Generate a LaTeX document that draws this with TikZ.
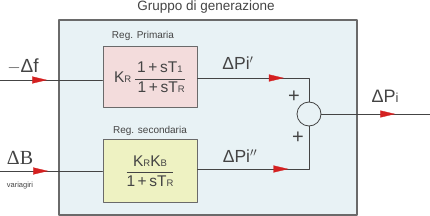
\documentclass[tikz,border=0pt]{standalone}
\usepackage{fontspec}
\setmainfont{Liberation Sans}
\newfontfamily\serifnum{Liberation Serif}
\usetikzlibrary{arrows.meta,calc,positioning,decorations.markings}
\definecolor{grpFill}{HTML}{E8F2F5}
\definecolor{grpLine}{HTML}{6A6A6A}
\definecolor{grpInk}{HTML}{444444}
\definecolor{regPink}{HTML}{F3DCDC}
\definecolor{regLime}{HTML}{EEF2C2}
\definecolor{tipRed}{HTML}{D42020}
\newcommand{\lo}[1]{{\fontsize{9.5}{9.5}\selectfont #1}}

\begin{document}
\begin{tikzpicture}[x=1pt,y=-1pt,line cap=round,line join=round]
\useasboundingbox (0,0) rectangle (430,216);
\tikzset{sig/.style={draw=grpInk,line width=0.8pt},
  midtip/.style={postaction={decorate,decoration={markings,mark=at position #1 with {\arrow[tipRed,line width=0.3pt]{Triangle[length=15pt,width=7pt]}}}}},
  regbox/.style={draw=grpLine,line width=1pt,minimum width=94pt,minimum height=61pt,inner sep=0pt,text=grpInk,font=\fontsize{15.5}{16}\selectfont},
  lbl/.style={text=grpInk,inner sep=0pt}}
% outer group
\path[draw=grpLine,fill=grpFill,line width=1.2pt] (59,20) rectangle (357,215);
\node[lbl,font=\fontsize{13.5}{14}\selectfont] (titolo) at (206,7) {Gruppo di generazione};
% regulators
\node[regbox,fill=regPink] (primaria) at (150,77.5) {K\lo{R}\,$\displaystyle\frac{\hbox{1\,+\,sT\lo{1}}}{\hbox{\,1\,+\,sT\lo{R}}}$};
\node[regbox,fill=regLime,minimum height=62pt] (secondaria) at (150,171) {$\displaystyle\frac{\hbox{K\lo{R}K\lo{B}}}{\hbox{1\,+\,sT\lo{R}}}$};
\node[lbl,font=\fontsize{10}{10}\selectfont] (labprim) at (143,36) {Reg. Primaria};
\node[lbl,font=\fontsize{10}{10}\selectfont] (labsec) at (150,131) {Reg. secondaria};
% summing junction
\node[draw=grpInk,line width=0.8pt,circle,minimum size=24pt,inner sep=0pt] (somma) at (309,114) {};
\coordinate (ingf) at (0,80);
\coordinate (ingB) at (0,171);
\coordinate (uscita) at (430,114);
% signals
\draw[sig,midtip=0.46] (ingf) -- (ingf -| primaria.west);
\draw[sig,midtip=0.47] (ingB) -- (ingB -| secondaria.west);
\draw[sig,midtip=0.64] (primaria.east |- 0,78) -| (somma.north);
\draw[sig,midtip=0.59] (secondaria.east |- 0,169) -| (somma.south);
\draw[sig,midtip=0.68] (somma.east) -- (uscita);
% labels
\node[lbl,font=\fontsize{19}{19}\selectfont] (menof) at (23,66) {$-$Δf};
\node[lbl,font=\serifnum\fontsize{20}{20}\selectfont] (deltaB) at (20,158) {ΔB};
\node[lbl,font=\fontsize{7.5}{8}\selectfont] (variagiri) at (20,186) {variagiri};
\node[lbl,font=\fontsize{17.5}{18}\selectfont] (dp1) at (238,63) {ΔPi$'$};
\node[lbl,font=\fontsize{17.5}{18}\selectfont] (dp2) at (240,156) {ΔPi$''$};
\node[lbl,font=\fontsize{18}{18}\selectfont] (dp) at (385,96) {ΔP{\fontsize{13}{13}\selectfont i}};
\node[lbl,font=\fontsize{20}{20}\selectfont] (piu1) at (294,97) {+};
\node[lbl,font=\fontsize{20}{20}\selectfont] (piu2) at (298,138) {+};
\end{tikzpicture}
\end{document}
